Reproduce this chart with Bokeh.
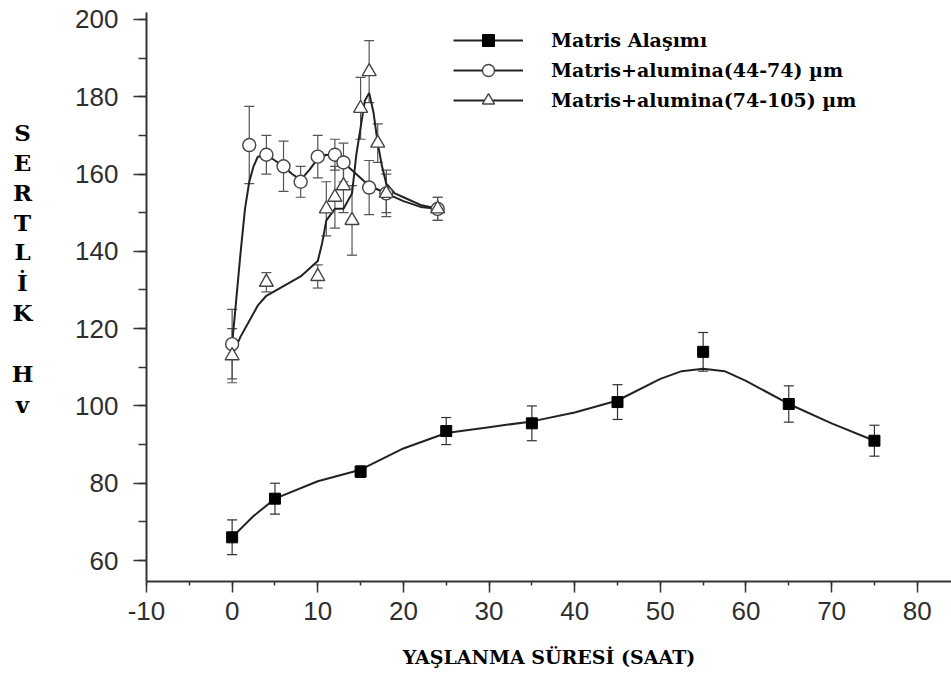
from bokeh.plotting import figure
from bokeh.layouts import row
from bokeh.models import (Range1d, SingleIntervalTicker, Whisker, ColumnDataSource,
                          Legend, LegendItem, TeeHead)
from bokeh.core.properties import value
from bokeh.embed import file_html
from bokeh.resources import INLINE

# ---------------- data ----------------
matris_x = [0, 5, 15, 25, 35, 45, 55, 65, 75]
matris_y = [66, 76, 83, 93.5, 95.5, 101, 114, 100.5, 91]
matris_err = [4.5, 4, 1.5, 3.5, 4.5, 4.5, 5, 4.7, 4]

matris_fit_x = [0, 2.5, 5, 10, 15, 20, 25, 30, 35, 40, 45, 50, 52.5, 55, 57.5, 60, 65, 70, 75]
matris_fit_y = [66, 71.5, 76, 80.5, 83.5, 89, 93, 94.5, 96, 98.3, 101.4, 107, 109, 109.6, 109, 106.5, 100.5, 95.5, 91]

c44_x = [0, 2, 4, 6, 8, 10, 12, 13, 16, 18, 24]
c44_y = [116, 167.5, 165, 162, 158, 164.5, 165, 163, 156.5, 155, 151]
c44_err = [9, 10, 5, 6.5, 4, 5.5, 4, 5, 7, 6, 3]

c44_fit_x = [0, 0.5, 1, 1.5, 2, 2.5, 3, 4, 5, 6, 7, 8, 9, 10, 11, 12, 13, 14, 15, 16, 17, 18, 20, 22, 24]
c44_fit_y = [116, 128, 140, 151, 158, 162, 164.5, 165, 163.5, 162, 160, 158.5, 161, 164, 165, 164.5, 163, 161, 159, 157, 156, 155, 153, 151.5, 151]

c74_x = [0, 4, 10, 11, 12, 13, 14, 15, 16, 17, 18, 24]
c74_y = [113, 132, 133.5, 151, 154, 157, 148, 177, 186.5, 168, 155, 151]
c74_err = [7, 2.5, 3, 7, 8, 7, 9, 8, 8, 5, 5, 3]

c74_fit_x = [0, 1, 2, 3, 4, 6, 8, 10, 10.5, 11, 12, 13, 14, 14.5, 15, 15.5, 16, 16.5, 17, 17.5, 18, 19, 20, 22, 24]
c74_fit_y = [113, 118, 122, 126, 128.5, 131, 133.5, 137.5, 142, 148, 151, 151, 155, 165, 172, 179, 181, 176, 168, 162, 157.5, 155, 154, 152, 151]

legend_labels = ["Matris Alaşımı", "Matris+alumina(44-74) µm", "Matris+alumina(74-105) µm"]
x_title = "YAŞLANMA SÜRESİ (SAAT)"
y_title_letters = ["S", "E", "R", "T", "L", "İ", "K", "H", "v"]

# ---------------- layout geometry (pixels) ----------------
W, H = 951, 681
TITLE_W = 60            # narrow strip that carries the stacked y title
FRAME_L, FRAME_T, FRAME_B = 146, 12, 581

# ---------------- stacked vertical y title (separate strip) ----------------
t = figure(width=TITLE_W, height=H, output_backend="svg", toolbar_location=None,
           x_range=Range1d(0, TITLE_W), y_range=Range1d(FRAME_B, FRAME_T),
           x_axis_location=None, y_axis_location=None,
           min_border_left=0, min_border_right=0,
           min_border_top=FRAME_T, min_border_bottom=H - FRAME_B)
t.outline_line_color = None
t.xgrid.visible = False
t.ygrid.visible = False
letter_x = [22] * len(y_title_letters)
letter_baselines = [131.5, 161.5, 191.5, 221.5, 250.5, 281.5, 311.5, 372.5, 404]
t.text(x=letter_x, y=letter_baselines, text=y_title_letters,
       text_align="center", text_baseline="alphabetic",
       text_font=value("DejaVu Serif"), text_font_style="bold",
       text_font_size="23px", text_color="black")

# ---------------- main figure ----------------
p = figure(width=W - TITLE_W, height=H, output_backend="svg", toolbar_location=None,
           x_range=Range1d(-10, 84.0), y_range=Range1d(54.57, 201.8),
           min_border_left=FRAME_L - TITLE_W, min_border_right=0,
           min_border_top=FRAME_T, min_border_bottom=H - FRAME_B)
p.outline_line_color = None
p.xgrid.visible = False
p.ygrid.visible = False
p.background_fill_color = "white"
p.border_fill_color = "white"

p.xaxis.ticker = SingleIntervalTicker(interval=10, num_minor_ticks=2)
p.yaxis.ticker = SingleIntervalTicker(interval=20, num_minor_ticks=2)

for ax in (p.xaxis[0], p.yaxis[0]):
    ax.axis_line_color = "#333333"
    ax.axis_line_width = 2
    ax.major_tick_line_color = "#333333"
    ax.minor_tick_line_color = "#333333"
    ax.major_tick_line_width = 1.5
    ax.minor_tick_line_width = 1.5
    ax.major_tick_in = 0
    ax.minor_tick_in = 0
    ax.major_label_text_font = "Liberation Sans"
    ax.major_label_text_font_size = "26px"
    ax.major_label_text_color = "#2e2e2e"

p.xaxis.major_tick_out = 11
p.xaxis.minor_tick_out = 4
p.xaxis.major_label_standoff = 9
p.yaxis.major_tick_out = 13
p.yaxis.minor_tick_out = 8
p.yaxis.major_label_standoff = 15
p.xaxis.major_label_overrides = {-10: "-10"}

p.xaxis.axis_label = x_title
p.xaxis.axis_label_text_font = "DejaVu Serif"
p.xaxis.axis_label_text_font_style = "bold"
p.xaxis.axis_label_text_font_size = "19px"
p.xaxis.axis_label_text_color = "black"
p.xaxis.axis_label_standoff = 23

# ---------------- series ----------------
line_col = "#222222"

def whiskers(xs, ys, es, color):
    src = ColumnDataSource(dict(base=xs,
                                upper=[y + e for y, e in zip(ys, es)],
                                lower=[y - e for y, e in zip(ys, es)]))
    w = Whisker(source=src, base="base", upper="upper", lower="lower",
                line_color=color, line_width=1.2,
                upper_head=TeeHead(size=10, line_color=color, line_width=1.2),
                lower_head=TeeHead(size=10, line_color=color, line_width=1.2))
    p.add_layout(w)

whiskers(matris_x, matris_y, matris_err, "#333333")
whiskers(c44_x, c44_y, c44_err, "#555555")
whiskers(c74_x, c74_y, c74_err, "#555555")

l_m = p.line(matris_fit_x, matris_fit_y, line_color=line_col, line_width=2)
l_c = p.line(c44_fit_x, c44_fit_y, line_color=line_col, line_width=2)
l_t = p.line(c74_fit_x, c74_fit_y, line_color=line_col, line_width=2)

s_m = p.scatter(matris_x, matris_y, marker="square", size=11, fill_color="black", line_color="black")
s_c = p.scatter(c44_x, c44_y, marker="circle", size=13, fill_color="white", line_color="#444444", line_width=1.4)
s_t = p.scatter(c74_x, c74_y, marker="triangle", size=14, fill_color="white", line_color="#444444", line_width=1.4)

legend = Legend(items=[LegendItem(label=legend_labels[0], renderers=[l_m, s_m]),
                       LegendItem(label=legend_labels[1], renderers=[l_c, s_c]),
                       LegendItem(label=legend_labels[2], renderers=[l_t, s_t])],
                location=(307, 466), orientation="vertical",
                glyph_width=70, glyph_height=30, label_height=30, label_standoff=28,
                spacing=0, padding=0, margin=0,
                border_line_color=None, background_fill_alpha=0,
                label_text_font="DejaVu Serif", label_text_font_style="bold",
                label_text_font_size="19px", label_text_color="black")
p.add_layout(legend)

layout = row(t, p, spacing=0)
open("out.html", "w").write(file_html(layout, INLINE))
